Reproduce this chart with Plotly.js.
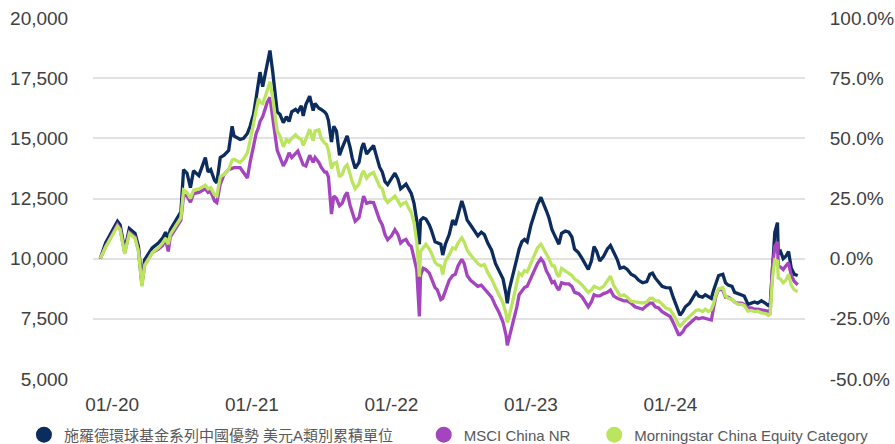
<!DOCTYPE html>
<html><head><meta charset="utf-8">
<script src="https://cdn.plot.ly/plotly-3.0.1.min.js"></script>
<style>html,body{margin:0;padding:0;background:#fff}#chart{width:895px;height:444px}</style>
</head><body><div id="chart"></div>
<script>
const dates = [
'2019-12-01','2019-12-15','2020-01-01','2020-01-15','2020-01-22','2020-02-03','2020-02-15','2020-03-01','2020-03-10','2020-03-19',
'2020-03-26','2020-04-15','2020-05-01','2020-05-12','2020-05-20','2020-05-27','2020-06-01','2020-06-15','2020-06-29','2020-07-06',
'2020-07-15','2020-07-24','2020-08-01','2020-08-15','2020-08-26','2020-09-01','2020-09-08','2020-09-15','2020-09-25','2020-10-01',
'2020-10-10','2020-10-20','2020-11-01','2020-11-10','2020-11-15','2020-12-01','2020-12-10','2020-12-20','2020-12-27','2021-01-05',
'2021-01-12','2021-01-18','2021-01-22','2021-01-29','2021-02-05','2021-02-10','2021-02-17','2021-02-24','2021-03-01','2021-03-08',
'2021-03-15','2021-03-24','2021-04-01','2021-04-08','2021-04-15','2021-04-25','2021-05-01','2021-05-10','2021-05-15','2021-05-22',
'2021-06-01','2021-06-10','2021-06-15','2021-06-25','2021-07-01','2021-07-10','2021-07-15','2021-07-20','2021-07-28','2021-08-03',
'2021-08-10','2021-08-18','2021-08-25','2021-09-01','2021-09-07','2021-09-15','2021-09-20','2021-09-28','2021-10-08','2021-10-15',
'2021-10-20','2021-10-28','2021-11-05','2021-11-15','2021-11-22','2021-12-01','2021-12-08','2021-12-15','2021-12-22','2022-01-01',
'2022-01-10','2022-01-18','2022-01-25','2022-02-01','2022-02-08','2022-02-15','2022-02-22','2022-03-01','2022-03-08','2022-03-15',
'2022-03-18','2022-03-25','2022-04-01','2022-04-10','2022-04-15','2022-04-25','2022-05-01','2022-05-10','2022-05-15','2022-05-22',
'2022-06-01','2022-06-10','2022-06-17','2022-06-24','2022-06-30','2022-07-04','2022-07-10','2022-07-18','2022-07-27','2022-08-05',
'2022-08-15','2022-08-24','2022-09-01','2022-09-10','2022-09-20','2022-09-30','2022-10-10','2022-10-20','2022-10-28','2022-10-31',
'2022-11-05','2022-11-10','2022-11-18','2022-11-25','2022-12-01','2022-12-08','2022-12-15','2022-12-22','2023-01-01','2023-01-10',
'2023-01-18','2023-01-27','2023-02-03','2023-02-10','2023-02-17','2023-02-25','2023-03-03','2023-03-10','2023-03-15','2023-03-22',
'2023-04-01','2023-04-10','2023-04-18','2023-04-25','2023-05-05','2023-05-15','2023-05-25','2023-05-31','2023-06-08','2023-06-15',
'2023-06-22','2023-06-30','2023-07-10','2023-07-20','2023-07-28','2023-08-05','2023-08-15','2023-08-22','2023-09-01','2023-09-10',
'2023-09-20','2023-09-30','2023-10-10','2023-10-20','2023-10-31','2023-11-08','2023-11-15','2023-11-22','2023-12-01','2023-12-10',
'2023-12-20','2023-12-31','2024-01-08','2024-01-15','2024-01-22','2024-01-26','2024-02-02','2024-02-09','2024-02-20','2024-03-01',
'2024-03-08','2024-03-15','2024-03-25','2024-04-01','2024-04-10','2024-04-17','2024-04-22','2024-04-29','2024-05-06','2024-05-17',
'2024-05-24','2024-05-31','2024-06-10','2024-06-17','2024-06-25','2024-07-05','2024-07-12','2024-07-22','2024-07-31','2024-08-08',
'2024-08-16','2024-08-26','2024-09-05','2024-09-13','2024-09-18','2024-09-24','2024-09-30','2024-10-07','2024-10-09','2024-10-15',
'2024-10-22','2024-10-29','2024-11-05','2024-11-12','2024-11-20','2024-11-29'
];
const fund = [
10000,10650,11150,11550,11400,10350,11250,11050,10500,9000,
9950,10450,10650,10850,11100,10800,11200,11550,11950,13700,
13550,12950,13650,13450,13900,14200,13600,13700,13250,13150,
14200,14300,14500,15500,15100,14950,15000,15200,15500,16000,
16700,17300,17750,17150,17700,18250,18650,17800,16950,16100,
16000,15650,15900,15700,16100,16200,16100,16350,15930,16400,
16750,16150,16450,16250,16200,16100,16000,15750,14850,15500,
15300,14300,14600,14900,15100,14600,14200,13750,14000,14600,
14800,14350,14500,14700,14300,13800,13600,13200,13080,13300,
13550,13300,12900,13000,13100,12900,12700,12300,11600,10600,
11600,11700,11650,11400,11200,10700,10650,10600,10150,10600,
11000,11600,11400,11850,12200,12400,12100,11600,11400,11200,
10950,11100,11000,10650,10350,9800,9450,9150,8500,8150,
8700,9000,9600,10000,10400,10700,10800,10700,11400,11850,
12250,12550,12300,12000,11700,11200,11000,10800,10600,11050,
11150,11100,10900,10400,10250,10000,9700,9550,9900,10500,
10300,9900,10100,10400,10550,10300,9950,9600,9650,9550,
9350,9270,9100,9000,9050,9350,9400,9200,9000,8850,
8800,8790,8400,8100,7750,7650,7800,8000,8150,8400,
8600,8450,8400,8500,8400,8350,8650,9000,9300,9350,
9000,8900,8850,8600,8550,8500,8450,8100,8150,8200,
8150,8250,8150,8050,8100,9800,11100,11500,10200,10300,
10000,10100,10300,9600,9350,9300
];
const msci = [
10000,10500,11000,11420,11250,10250,11100,10900,10350,8900,
9750,10250,10400,10550,10800,10300,10900,11250,11600,12650,
12600,12350,12700,12750,12850,12900,12750,12800,12400,12330,
13100,13500,13700,13750,13780,13780,13600,13350,14000,14700,
15200,15450,15700,15900,16200,16500,16700,16000,15300,14500,
14200,13850,14100,14400,14200,14400,14470,14100,13900,13850,
14300,14000,14200,14000,13800,13600,13600,13400,11850,12600,
12500,12200,12300,12600,12750,12200,11900,11550,11700,12300,
12600,12300,12350,12330,12000,11600,11400,11000,10790,10950,
11200,11000,10650,10750,10800,10600,10500,10050,9550,7600,
9300,9600,9550,9400,9200,8800,8700,8300,8350,8700,
9100,9300,9350,9700,9900,9970,9800,9300,9100,8990,
8850,8900,8750,8600,8400,8050,7750,7350,6800,6400,
6700,7000,7600,8000,8500,8650,8800,8850,9200,9550,
9800,10000,9850,9500,9300,9000,9050,8800,8700,9000,
8950,8950,8850,8600,8550,8400,8150,8000,8200,8500,
8450,8450,8550,8600,8700,8450,8350,8300,8250,8250,
8150,8000,7950,7900,8050,8150,8150,8000,7950,7800,
7700,7600,7350,7100,6850,6850,6950,7150,7330,7450,
7550,7500,7550,7520,7450,7450,7900,8450,8720,8700,
8400,8400,8300,8200,8150,8150,8100,7950,7950,7900,
7900,7870,7820,7800,7800,9700,10500,10700,9700,9650,
9550,9700,9830,9300,9050,8920
];
const category = [
10000,10480,10950,11350,11200,10200,11050,10850,10300,8850,
9700,10250,10450,10650,10850,10600,11000,11350,11700,12850,
12750,12500,12850,12900,13000,13050,12900,12950,12650,12600,
13400,13500,13700,14100,14130,14000,14150,14400,14900,15600,
16300,16650,16500,16450,16750,17000,17350,16700,16000,15300,
15100,14650,14950,14850,15000,15150,15050,14950,14700,15000,
15380,14900,15300,15350,15000,14800,14750,14500,13750,13950,
14000,13400,13500,13800,13900,13500,13200,12900,13100,13500,
13650,13350,13500,13580,13300,13000,12900,12500,12330,12450,
12600,12400,12200,12300,12350,12100,11900,11500,10700,9250,
10300,10450,10600,10400,10250,9850,9750,9700,9350,9900,
10150,10450,10400,10650,10800,10870,10700,10350,10150,10000,
9800,9700,9750,9420,9150,8800,8500,8150,7700,7350,
7600,7900,8500,9000,9400,9300,9500,9450,9850,10200,
10450,10600,10400,10150,10000,9700,9700,9350,9250,9600,
9500,9400,9300,9150,9050,8900,8700,8600,8700,8850,
8800,8750,8850,9100,9270,8900,8600,8450,8500,8400,
8230,8200,8180,8160,8200,8350,8360,8250,8250,8100,
7950,7880,7700,7500,7250,7200,7300,7450,7600,7750,
7850,7880,7800,7900,7800,7900,8100,8500,8750,8800,
8450,8350,8300,8200,8100,8100,8050,7820,7850,7800,
7820,7750,7720,7650,7700,9200,9950,9900,9200,9150,
9000,9100,9350,8900,8700,8640
];
const seriesNames = ['施羅德環球基金系列中國優勢 美元A類別累積單位', 'MSCI China NR', 'Morningstar China Equity Category'];
const seriesColors = ['#0b2c5c', '#a445bf', '#bbe55e'];
const tickDates = ['2020-01-01','2021-01-01','2022-01-01','2023-01-01','2024-01-01'];
const tickLabels = ['01/-20','01/-21','01/-22','01/-23','01/-24'];
const leftTicks = [5000,7500,10000,12500,15000,17500,20000];
const leftLabels = ['5,000','7,500','10,000','12,500','15,000','17,500','20,000'];
const rightTicks = [-0.5,-0.25,0,0.25,0.5,0.75,1.0];
const rightLabels = ['-50.0%','-25.0%','0.0%','25.0%','50.0%','75.0%','100.0%'];

const values = [fund, msci, category];
const legendIds = ['legend', 'legend2', 'legend3'];
const traces = [];
values.forEach((v, i) => {
  traces.push({x: dates, y: v, type: 'scatter', mode: 'lines', name: seriesNames[i],
    line: {color: seriesColors[i], width: 3.3}, showlegend: false, hoverinfo: 'skip'});
});
values.forEach((v, i) => {
  traces.push({x: [null], y: [null], type: 'scatter', mode: 'markers', name: seriesNames[i],
    marker: {color: seriesColors[i], size: 16}, legend: legendIds[i], showlegend: true});
});
traces.push({x: [dates[0]], y: [0], yaxis: 'y2', mode: 'markers', marker: {opacity: 0}, showlegend: false, hoverinfo: 'skip'});

const tickFont = {family: 'Liberation Sans, Arial, sans-serif', size: 19, color: '#404040'};
const legFont = {family: 'Liberation Sans, "Noto Sans CJK TC", Arial, sans-serif', size: 15, color: '#595959'};
const legBase = {orientation: 'h', yanchor: 'middle', xanchor: 'left', y: -0.155, font: legFont, bgcolor: 'rgba(0,0,0,0)'};

const layout = {
  width: 895, height: 444,
  margin: {l: 93, r: 90, t: 18, b: 65, autoexpand: false},
  paper_bgcolor: '#fff', plot_bgcolor: '#fff',
  showlegend: true,
  xaxis: {type: 'date', range: ['2019-11-12', '2024-12-18'], showgrid: false, zeroline: false, showline: false,
    tickvals: tickDates, ticktext: tickLabels, ticks: 'outside', ticklen: 8, tickcolor: 'rgba(0,0,0,0)', tickfont: tickFont},
  yaxis: {range: [5000, 20000], tickvals: leftTicks, ticktext: leftLabels, showgrid: true, gridcolor: '#e2e2e2', gridwidth: 2,
    zeroline: false, showline: false, ticks: 'outside', ticklen: 20, tickcolor: 'rgba(0,0,0,0)', tickfont: tickFont},
  yaxis2: {overlaying: 'y', side: 'right', range: [-0.5, 1.0], tickvals: rightTicks, ticktext: rightLabels, showgrid: false,
    zeroline: false, showline: false, ticks: 'outside', ticklen: 20, tickcolor: 'rgba(0,0,0,0)', tickfont: tickFont},
  legend: Object.assign({}, legBase, {x: -0.097}),
  legend2: Object.assign({}, legBase, {x: 0.4645}),
  legend3: Object.assign({}, legBase, {x: 0.704})
};
Plotly.newPlot('chart', traces, layout, {displayModeBar: false, staticPlot: true});
</script></body></html>
